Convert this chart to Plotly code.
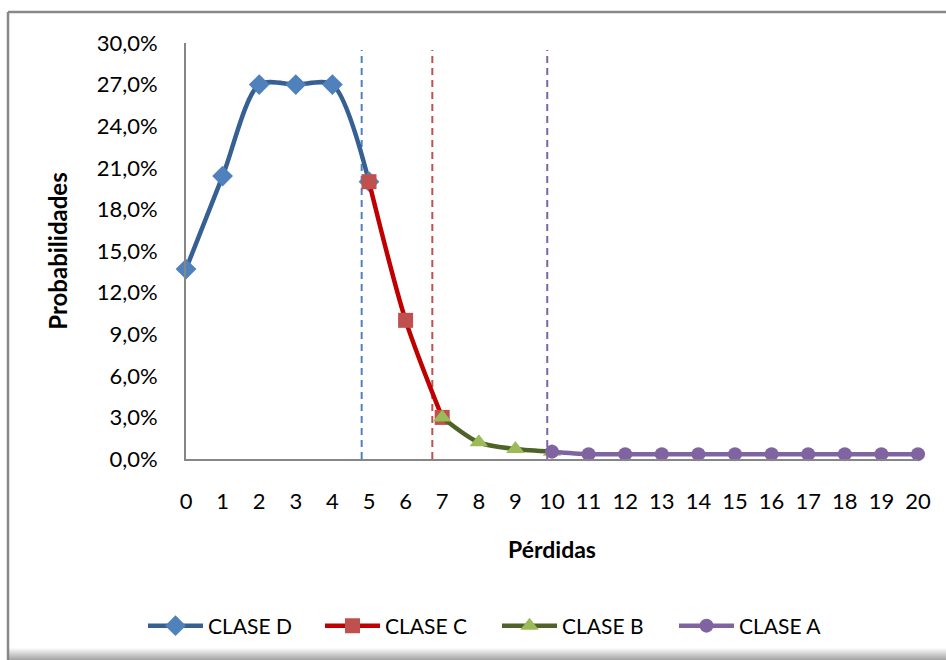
import plotly.graph_objects as go

# ---- data ----
x_d = [0, 1, 2, 3, 4, 5]
y_d = [0.137, 0.204, 0.270, 0.270, 0.270, 0.200]
x_c = [5, 6, 7]
y_c = [0.200, 0.100, 0.030]
x_b = [7, 8, 9, 10]
y_b = [0.030, 0.012, 0.0072, 0.0053]
x_a = [10, 11, 12, 13, 14, 15, 16, 17, 18, 19, 20]
y_a = [0.0053, 0.0035, 0.0035, 0.0035, 0.0035, 0.0035, 0.0035, 0.0035, 0.0035, 0.0035, 0.0035]
cut_x = [4.8, 6.73, 9.87]
cut_colors = ["#4F81BD", "#C0504D", "#8064A2"]
x_ticks = list(range(0, 21))
y_ticks = [i * 0.03 for i in range(11)]

FONT = "Lato"

fig = go.Figure()

series = [
    ("CLASE D", x_d, y_d, "#376092", "#4F81BD", "diamond", 16),
    ("CLASE C", x_c, y_c, "#C00000", "#C0504D", "square", 15),
    ("CLASE B", x_b, y_b, "#4F6228", "#9BBB59", "triangle-up", 16),
    ("CLASE A", x_a, y_a, "#8064A2", "#8064A2", "circle", 14),
]
for name, xs, ys, lc, mc, sym, ms in series:
    fig.add_trace(go.Scatter(
        x=xs, y=ys, name=name, mode="lines+markers", cliponaxis=False,
        line=dict(color=lc, width=4.5, shape="spline", smoothing=0.8),
        marker=dict(symbol=sym, size=ms, color=mc, line=dict(width=0)),
    ))

for cx, cc in zip(cut_x, cut_colors):
    fig.add_shape(type="line", xref="x", yref="y", x0=cx, x1=cx, y0=0, y1=0.295,
                  line=dict(color=cc, width=2, dash="7px,5px"), layer="below")

# chart frame (left + top border) and bottom shadow
W, H = 946, 660
L, R, T, B = 186, 918, 43, 459
def px(xp):
    return (xp - L) / (R - L)
def py(yp):
    return (B - yp) / (B - T)

fig.add_shape(type="line", xref="paper", yref="paper", x0=px(8), x1=px(946), y0=py(12), y1=py(12),
              line=dict(color="#888888", width=2.5))
fig.add_shape(type="line", xref="paper", yref="paper", x0=px(8), x1=px(8), y0=py(12), y1=py(660),
              line=dict(color="#888888", width=2.5))
for i in range(12):
    fig.add_shape(type="rect", xref="paper", yref="paper", x0=px(8), x1=px(946),
                  y0=py(648 + i), y1=py(649 + i),
                  line=dict(width=0), fillcolor="rgba(128,128,128,%.3f)" % (0.04 + 0.06 * i))

fig.update_layout(
    width=W, height=H,
    margin=dict(l=L, r=W - R, t=T, b=H - B, autoexpand=False),
    paper_bgcolor="white", plot_bgcolor="white",
    separators=",.",
    font=dict(family=FONT, size=22, color="black"),
    showlegend=True,
    legend=dict(orientation="h", x=px(143), xanchor="left", y=py(626), yanchor="middle",
                font=dict(family=FONT, size=21), itemwidth=55, tracegroupgap=0,
                entrywidth=107, entrywidthmode="pixels",
                bgcolor="rgba(0,0,0,0)"),
    xaxis=dict(range=[0, 20], tickmode="array", tickvals=x_ticks, ticktext=[str(t) for t in x_ticks],
               showgrid=False, zeroline=False, showline=True, linecolor="#868686", linewidth=2,
               ticks="", ticklen=0, ticklabelstandoff=22, tickfont=dict(size=22),
               title=dict(text="<b>Pérdidas</b>", font=dict(family=FONT, size=23), standoff=28)),
    yaxis=dict(range=[0, 0.30], tickmode="array", tickvals=y_ticks, tickformat=".1%",
               showgrid=False, zeroline=False, showline=True, linecolor="#868686", linewidth=2,
               ticks="", ticklabelstandoff=22, tickfont=dict(size=22),
               title=dict(text="<b>Probabilidades</b>", font=dict(family=FONT, size=24), standoff=22)),
)

fig.write_html("out.html")
